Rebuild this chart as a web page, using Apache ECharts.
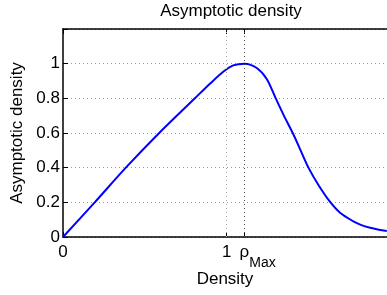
<!DOCTYPE html>
<html>
<head>
<meta charset="utf-8">
<script src="https://cdn.jsdelivr.net/npm/echarts@6/dist/echarts.min.js"></script>
<style>
  html, body { margin: 0; padding: 0; background: #fff; }
  #chart { width: 387px; height: 295px; }
</style>
</head>
<body>
<div id="chart"></div>
<script>
  // values
  var densityX = [0, 0.194, 0.384, 0.588, 0.806, 0.898, 0.979, 1.040, 1.110, 1.184, 1.245,
                  1.300, 1.350, 1.404, 1.452, 1.500, 1.561, 1.630, 1.693, 1.775, 1.820, 1.877, 1.930, 1.979];
  var asymptoticY = [0, 0.2, 0.4, 0.6, 0.8, 0.884, 0.953, 0.990, 1.0, 0.975, 0.912,
                     0.80, 0.70, 0.60, 0.50, 0.40, 0.30, 0.205, 0.14, 0.09, 0.07, 0.053, 0.042, 0.034];
  var rhoMax = 1.108;
  var xTicks = [0, 1, rhoMax];
  var xLabelValues = [0, 1];
  var yTickLabels = ['0', '0.2', '0.4', '0.6', '0.8', '1'];

  var font = 'Liberation Sans, Arial, Helvetica, sans-serif';
  var chart = echarts.init(document.getElementById('chart'));

  var points = densityX.map(function (x, i) { return [x, asymptoticY[i]]; });

  var option = {
    animation: false,
    title: {
      text: 'Asymptotic density',
      left: 226, top: -2, textAlign: 'center',
      textStyle: { fontFamily: font, fontSize: 17, fontWeight: 'normal', color: '#000' }
    },
    grid: { left: 63, right: 0, top: 29, bottom: 58 },
    xAxis: [{
      type: 'value', min: 0, max: 1.98, position: 'bottom',
      name: 'Density', nameLocation: 'middle', nameGap: 34,
      nameTextStyle: { fontFamily: font, fontSize: 17, color: '#000' },
      axisLine: { onZero: false, lineStyle: { color: '#000', width: 1.5 } },
      axisTick: { inside: true, length: 5, customValues: xTicks, lineStyle: { color: '#000' } },
      axisLabel: {
        customValues: xLabelValues, margin: 7, color: '#000', fontFamily: font, fontSize: 17
      },
      splitLine: { show: false }
    }, {
      type: 'value', min: 0, max: 1.98, position: 'top',
      axisLine: { onZero: false, lineStyle: { color: '#000', width: 1.5 } },
      axisTick: { inside: true, length: 5, customValues: xTicks, lineStyle: { color: '#000' } },
      axisLabel: { show: false },
      splitLine: { show: false }
    }],
    yAxis: {
      type: 'value', min: 0, max: 1.2, interval: 0.2,
      name: 'Asymptotic density', nameLocation: 'middle', nameGap: 35,
      nameTextStyle: { fontFamily: font, fontSize: 17, color: '#000' },
      axisLine: { show: true, onZero: false, lineStyle: { color: '#000', width: 1.5 } },
      axisTick: { show: true, inside: true, length: 5, lineStyle: { color: '#000' } },
      axisLabel: {
        margin: 3, color: '#000', fontFamily: font, fontSize: 17,
        formatter: function (v, i) { return yTickLabels[i] !== undefined ? yTickLabels[i] : ''; }
      },
      splitLine: { show: true, lineStyle: { color: '#999', width: 1, type: [1, 3] } }
    },
    series: [{
      type: 'line',
      data: points,
      smooth: 0.3,
      showSymbol: false,
      lineStyle: { color: '#0000ff', width: 2 },
      markLine: {
        silent: true, symbol: 'none',
        label: { show: false },
        data: [
          { xAxis: 1, lineStyle: { color: '#aaa', width: 1, type: [1, 3] } },
          {
            xAxis: rhoMax, lineStyle: { color: '#444', width: 1, type: [1, 3] },
            label: {
              show: true, position: 'start', distance: 7,
              formatter: '{r|ρ}{s|Max}',
              rich: {
                r: { fontFamily: font, fontSize: 17, lineHeight: 17, color: '#000', verticalAlign: 'top', padding: [0, 0, 0, 26] },
                s: { fontFamily: font, fontSize: 14, lineHeight: 14, color: '#000', verticalAlign: 'top', padding: [12, 0, 0, 0] }
              }
            }
          }
        ]
      }
    }]
  };

  chart.setOption(option);
</script>
</body>
</html>
